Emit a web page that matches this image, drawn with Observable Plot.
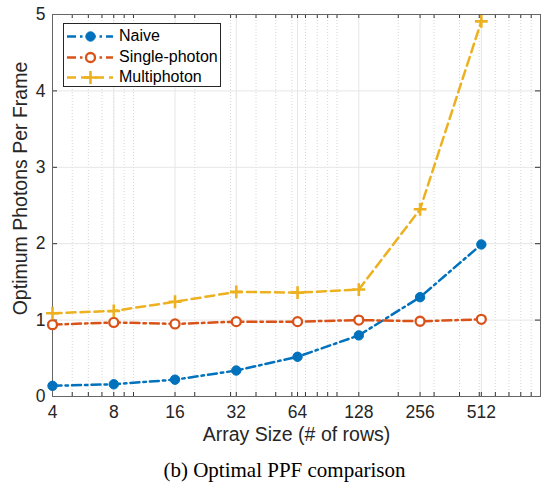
<!DOCTYPE html>
<html><head><meta charset="utf-8">
<script src="https://cdn.jsdelivr.net/npm/d3@7"></script>
<script src="https://cdn.jsdelivr.net/npm/@observablehq/plot@0.6"></script>
<style>
body{margin:0;background:#fff;}
#wrap{position:relative;width:543px;height:487px;font-family:"Liberation Sans",Arial,sans-serif;}
#legend{position:absolute;left:63px;top:23px;width:156px;height:62px;border:1px solid #262626;background:#fff;}
.row{position:absolute;left:0;height:20px;display:flex;align-items:center;}
.row svg{display:block;}
.row span{font-size:16px;color:#000;margin-left:6px;}
#caption{position:absolute;left:13px;width:543px;top:457px;text-align:center;font-family:"Liberation Serif","Times New Roman",serif;font-size:21px;line-height:26px;color:#000;}
</style></head><body>
<div id="wrap"><div id="chart"></div><div id="legend"></div>
<div id="caption">(b) Optimal PPF comparison</div></div>
<script>
const arraySizes = [4, 8, 16, 32, 64, 128, 256, 512];
const naive = [0.14, 0.16, 0.22, 0.34, 0.52, 0.80, 1.30, 1.99];
const singlePhoton = [0.94, 0.97, 0.95, 0.98, 0.98, 1.00, 0.985, 1.01];
const multiphoton = [1.09, 1.12, 1.24, 1.37, 1.36, 1.40, 2.45, 4.91];
const seriesNames = ["Naive", "Single-photon", "Multiphoton"];
const seriesColors = ["#0072BD", "#D95319", "#EDB120"];
const xTicks = [4, 8, 16, 32, 64, 128, 256, 512];
const minorXTicks = [5, 6, 7, 8, 9, 10, 20, 30, 40, 50, 60, 70, 80, 90, 100, 200, 300, 400, 500, 600, 700, 800, 900];
const yTicks = [0, 1, 2, 3, 4, 5];
const xLabel = "Array Size (# of rows)";
const yLabel = "Optimum Photons Per Frame";

const seriesValues = [naive, singlePhoton, multiphoton];
const dashes = ["9,4,2.5,4", "9,4,2.5,4", "9,5"];
const symbols = ["circle", "circle", "plus"];
const fills = [seriesColors[0], "white", "none"];
const radii = [4.7, 4.5, 4.2];
const strokeWidths = [1, 2.3, 2.6];

const rows = [];
seriesNames.forEach((name, s) => arraySizes.forEach((x, i) => rows.push({series: name, x, y: seriesValues[s][i]})));

const W = 543, H = 452, mL = 52, mR = 3, mT = 14, mB = 56;
const pw = W - mL - mR, ph = H - mT - mB;
const allXTicks = Array.from(new Set([...xTicks, ...minorXTicks])).sort((a, b) => a - b);

const marks = [
  Plot.ruleX(minorXTicks, {x: d => d, stroke: "#d6d6d6", strokeDasharray: "1,2"}),
  Plot.ruleX(xTicks, {x: d => d, stroke: "#e6e6e6"}),
  Plot.ruleY(yTicks.slice(1, -1), {y: d => d, stroke: "#e6e6e6"}),
  Plot.tickX(allXTicks, {x: d => d, insetTop: ph - 4, stroke: "#333"}),
  Plot.tickX(allXTicks, {x: d => d, insetBottom: ph - 4, stroke: "#333"}),
  Plot.tickY(yTicks, {y: d => d, insetRight: pw - 5, stroke: "#333"}),
  Plot.tickY(yTicks, {y: d => d, insetLeft: pw - 5, stroke: "#333"}),
  Plot.frame({stroke: "#666"})
];
seriesNames.forEach((name, s) => {
  const data = rows.filter(d => d.series === name);
  marks.push(Plot.line(data, {x: "x", y: "y", stroke: seriesColors[s], strokeWidth: 2.5, strokeDasharray: dashes[s]}));
});
seriesNames.forEach((name, s) => {
  const data = rows.filter(d => d.series === name);
  marks.push(Plot.dot(data, {x: "x", y: "y", symbol: symbols[s], r: radii[s], fill: fills[s], stroke: seriesColors[s], strokeWidth: strokeWidths[s]}));
});
marks.push(
  Plot.text(xTicks, {x: d => d, frameAnchor: "bottom", dy: 21, text: d => String(d), fontSize: 17.5, fill: "#262626"}),
  Plot.text(yTicks, {y: d => d, frameAnchor: "left", dx: -7, textAnchor: "end", text: d => String(d), fontSize: 17.5, fill: "#262626"}),
  Plot.text([xLabel], {frameAnchor: "bottom", dy: 44, fontSize: 19.5, fill: "#262626", text: d => d}),
  Plot.text([yLabel], {frameAnchor: "left", textAnchor: "middle", rotate: -90, dx: -32, dy: -17, fontSize: 19.5, fill: "#262626", text: d => d})
);

const chart = Plot.plot({
  width: W, height: H,
  marginLeft: mL, marginRight: mR, marginTop: mT, marginBottom: mB,
  style: {fontFamily: "'Liberation Sans', Arial, sans-serif", background: "white", overflow: "visible"},
  x: {type: "log", domain: [4, 1000], axis: null},
  y: {domain: [0, 5], axis: null},
  marks
});
document.getElementById("chart").appendChild(chart);

// legend
const legend = document.getElementById("legend");
seriesNames.forEach((name, s) => {
  const row = document.createElement("div");
  row.className = "row";
  row.style.top = (2 + s * 20.5) + "px";
  const sw = Plot.plot({
    width: 46, height: 20, margin: 0,
    x: {domain: [0, 1], axis: null}, y: {domain: [0, 1], axis: null},
    style: {background: "transparent"},
    marks: [
      Plot.ruleY([0.5], {x1: 0, x2: 1, y: d => d, stroke: seriesColors[s], strokeWidth: 2.5, strokeDasharray: dashes[s]}),
      Plot.dot([0.5], {x: d => d, y: 0.5, symbol: symbols[s], r: radii[s], fill: fills[s], stroke: seriesColors[s], strokeWidth: strokeWidths[s]})
    ]
  });
  row.appendChild(sw);
  const t = document.createElement("span");
  t.textContent = name;
  row.appendChild(t);
  row.style.left = "3px";
  legend.appendChild(row);
});
</script>
</body></html>
